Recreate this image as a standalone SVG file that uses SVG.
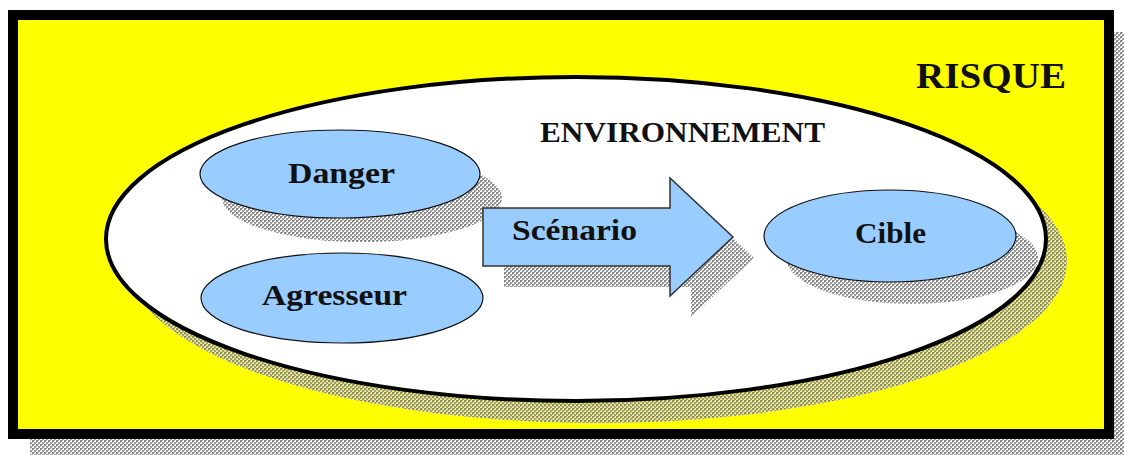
<svg xmlns="http://www.w3.org/2000/svg" width="1124" height="455" viewBox="0 0 1124 455">
  <defs>
    <pattern id="stip" width="4" height="4" patternUnits="userSpaceOnUse">
      <rect x="0" y="0" width="2" height="2" fill="#8a8a8a"/>
      <rect x="2" y="2" width="2" height="2" fill="#9a9a9a"/>
      <rect x="2" y="0" width="1" height="1" fill="#b0b0b0"/>
      <rect x="0" y="2" width="1" height="1" fill="#b8b8b8"/>
    </pattern>
    <style>
      .shadow { fill: url(#stip); }
      .node { fill: #99CCFF; stroke: #111; stroke-width: 1.2; }
      .lbl { font-family: "Liberation Serif", "Times New Roman", serif; font-weight: bold; fill: #111; }
    </style>
  </defs>

  <!-- outer frame -->
  <g id="risque">
    <rect class="shadow" x="30" y="32" width="1094" height="423"/>
    <rect x="13" y="15" width="1096" height="419" fill="#FFFF00" stroke="#000" stroke-width="10"/>
    <text class="lbl" x="916" y="88" font-size="35" textLength="150" lengthAdjust="spacingAndGlyphs">RISQUE</text>
  </g>

  <!-- environment -->
  <g id="environnement">
    <ellipse class="shadow" cx="597" cy="261" rx="470" ry="162"/>
    <ellipse cx="576" cy="239" rx="470" ry="162" fill="#fff" stroke="#000" stroke-width="4"/>
    <text class="lbl" x="540" y="142" font-size="29" textLength="285" lengthAdjust="spacingAndGlyphs">ENVIRONNEMENT</text>
  </g>

  <g id="danger">
    <ellipse class="shadow" cx="362" cy="198" rx="140" ry="44"/>
    <ellipse class="node" cx="340" cy="174" rx="140" ry="44"/>
    <text class="lbl" x="288" y="183" font-size="30" textLength="107" lengthAdjust="spacingAndGlyphs">Danger</text>
  </g>

  <g id="agresseur">
    <ellipse class="node" cx="342" cy="298" rx="141" ry="45"/>
    <text class="lbl" x="262" y="305" font-size="30" textLength="145" lengthAdjust="spacingAndGlyphs">Agresseur</text>
  </g>

  <g id="cible">
    <ellipse class="shadow" cx="912" cy="258" rx="126" ry="46"/>
    <ellipse class="node" cx="890" cy="236" rx="126" ry="46"/>
    <text class="lbl" x="855" y="243" font-size="30" textLength="71" lengthAdjust="spacingAndGlyphs">Cible</text>
  </g>

  <g id="connectors">
    <g id="scenario">
      <polygon class="shadow" points="504,228 691,228 691,198 754,258 691,317 691,287 504,287"/>
      <polygon points="483,208 670,208 670,178 733,237 670,296 670,266 483,266" fill="#99CCFF" stroke="#333" stroke-width="1.5"/>
      <text class="lbl" x="512" y="240" font-size="30" textLength="125" lengthAdjust="spacingAndGlyphs">Scénario</text>
    </g>
  </g>
</svg>
